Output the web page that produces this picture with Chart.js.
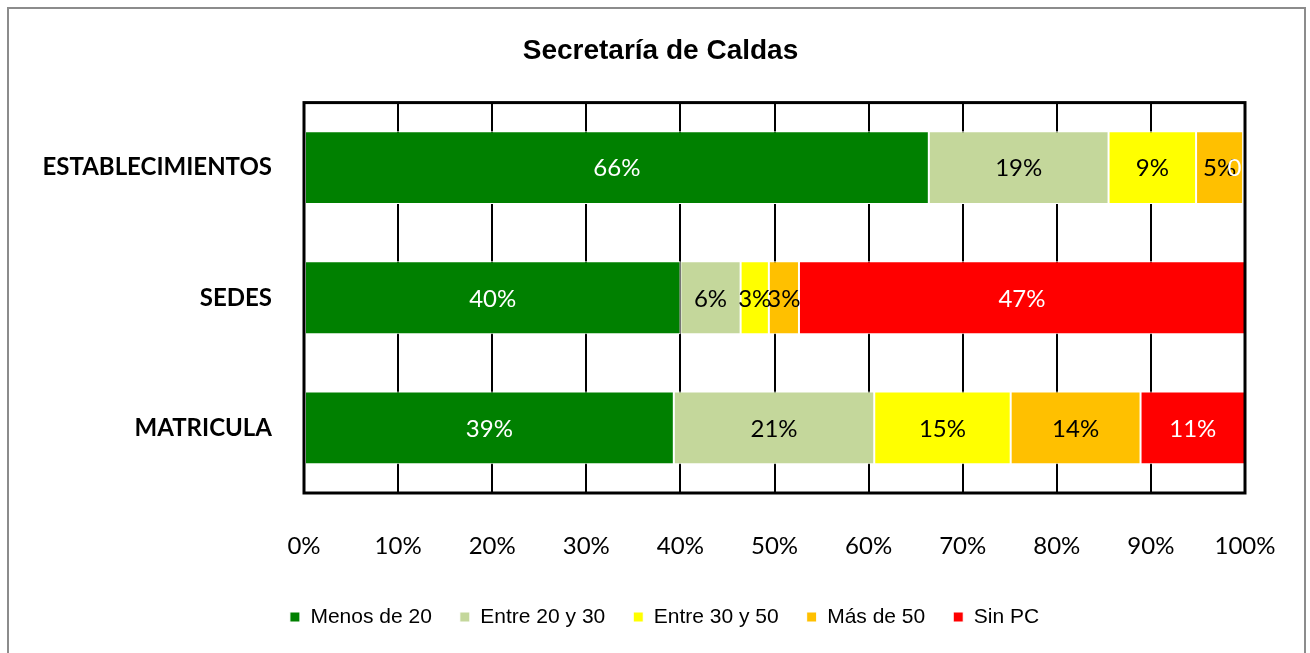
<!DOCTYPE html>
<html>
<head>
<meta charset="utf-8">
<script src="https://cdn.jsdelivr.net/npm/chart.js@4/dist/chart.umd.min.js"></script>
<style>
  html, body { margin: 0; padding: 0; background: #fff; }
  #wrap { position: relative; width: 1310px; height: 653px; overflow: hidden; }
  #frame { position: absolute; left: 7px; top: 7px; width: 1299px; height: 660px; border: 2px solid #8c8c8c; box-sizing: border-box; pointer-events: none; }
  canvas { position: absolute; left: 0; top: 0; }
</style>
</head>
<body>
<div id="wrap">
  <canvas id="chart" width="1310" height="653"></canvas>
  <div id="frame"></div>
</div>
<script>
// data (percent of each row)
const categories = ['ESTABLECIMIENTOS', 'SEDES', 'MATRICULA'];
const seriesNames = ['Menos de 20', 'Entre 20 y 30', 'Entre 30 y 50', 'Más de 50', 'Sin PC'];
const menos20 = [66.4, 40.0, 39.3];
const entre20y30 = [19.1, 6.4, 21.3];
const entre30y50 = [9.3, 3.0, 14.5];
const mas50 = [5.0, 3.2, 13.8];
const sinPC = [0.2, 47.4, 11.1];
const xTicks = [0, 10, 20, 30, 40, 50, 60, 70, 80, 90, 100];

const colors = ['#008000', '#c4d79b', '#ffff00', '#ffc000', '#ff0000'];
const labelColors = ['#ffffff', '#000000', '#000000', '#000000', '#ffffff'];
const values = [menos20, entre20y30, entre30y50, mas50, sinPC];

const datasets = seriesNames.map((name, i) => ({
  label: name,
  data: values[i],
  backgroundColor: colors[i],
  borderColor: '#ffffff',
  borderWidth: 1,
  borderSkipped: false,
  barPercentage: 0.56,
  categoryPercentage: 1.0
}));

// value labels centred in each segment
const segmentLabels = {
  id: 'segmentLabels',
  afterDatasetsDraw(chart) {
    const ctx = chart.ctx;
    ctx.save();
    ctx.font = '24px Lato';
    ctx.textAlign = 'center';
    ctx.textBaseline = 'middle';
    chart.data.datasets.forEach((ds, i) => {
      const meta = chart.getDatasetMeta(i);
      meta.data.forEach((bar, j) => {
        const p = bar.getProps(['x', 'y', 'base'], true);
        ctx.fillStyle = labelColors[i];
        ctx.fillText(Math.round(ds.data[j]) + '%', (p.x + p.base) / 2, p.y + 1);
      });
    });
    ctx.restore();
  }
};

// thick black box around the plot area
const plotFrame = {
  id: 'plotFrame',
  afterDatasetsDraw(chart) {
    const a = chart.chartArea;
    const ctx = chart.ctx;
    ctx.save();
    ctx.strokeStyle = '#000';
    ctx.lineWidth = 3;
    ctx.strokeRect(a.left, a.top, a.right - a.left, a.bottom - a.top);
    ctx.restore();
  }
};

// title and legend sit a little right of the layout centre in the original
const shiftBlocks = {
  id: 'shiftBlocks',
  afterLayout(chart) {
    chart.titleBlock.left += 38;
    chart.titleBlock.right += 38;
    chart.legend.left += 42;
    chart.legend.right += 42;
  }
};

new Chart(document.getElementById('chart'), {
  type: 'bar',
  data: { labels: categories, datasets: datasets },
  options: {
    indexAxis: 'y',
    responsive: false,
    animation: false,
    layout: { padding: { left: 0, right: 65, top: 18, bottom: 15.5 } },
    scales: {
      x: {
        stacked: true,
        min: 0,
        max: 100,
        afterBuildTicks(scale) { scale.ticks = xTicks.map(v => ({ value: v })); },
        afterFit(scale) {
          scale.height = 85.5;
          scale.paddingLeft = 0;
          scale.paddingRight = 0;
        },
        grid: { color: '#000', lineWidth: 2, drawTicks: false },
        border: { display: false },
        ticks: {
          padding: 39,
          color: '#000',
          font: { family: 'Lato', size: 24 },
          callback: v => v + '%'
        }
      },
      y: {
        stacked: true,
        afterFit(scale) { scale.width = 304; },
        grid: { display: false, drawTicks: false },
        border: { display: false },
        ticks: {
          padding: 32,
          color: '#000',
          font: { family: 'Lato', size: 24, weight: 'bold' }
        }
      }
    },
    plugins: {
      title: {
        display: true,
        text: 'Secretaría de Caldas',
        color: '#000',
        font: { family: 'Liberation Sans', size: 28, weight: 'bold' },
        padding: { top: 16, bottom: 35 }
      },
      legend: {
        position: 'bottom',
        labels: {
          color: '#000',
          boxWidth: 10,
          boxHeight: 10,
          padding: 28,
          font: { family: 'Liberation Sans', size: 21 }
        }
      },
      tooltip: { enabled: false }
    }
  },
  plugins: [segmentLabels, plotFrame, shiftBlocks]
});
</script>
</body>
</html>
